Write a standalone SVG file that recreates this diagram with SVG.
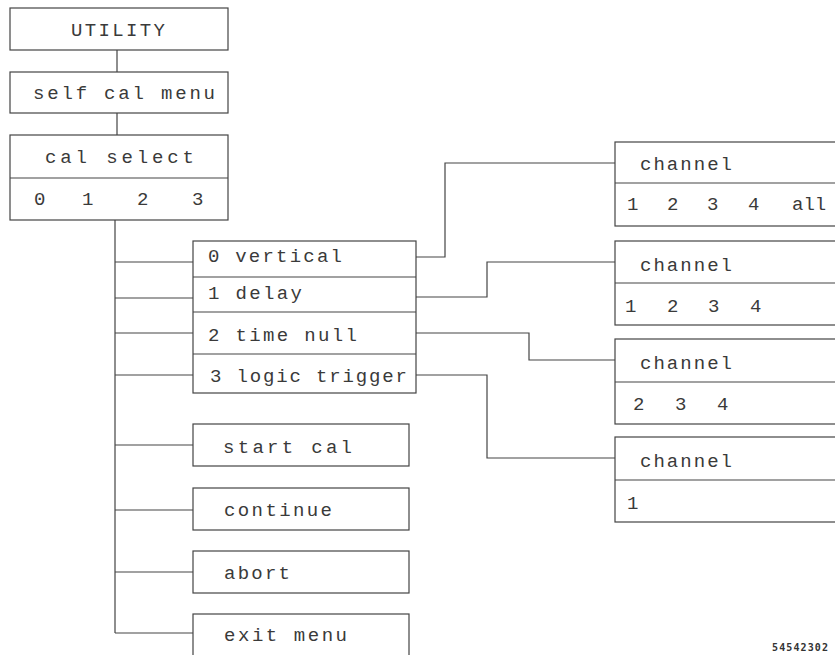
<svg xmlns="http://www.w3.org/2000/svg" width="835" height="655" viewBox="0 0 835 655">
<style>
.box{fill:#fff;stroke:#444;stroke-width:1.2}
.div{stroke:#444;stroke-width:1.2}
.t{font-family:"Liberation Mono","DejaVu Sans Mono",monospace;font-size:19px;fill:#3a3a3a}
.c{fill:none;stroke:#444;stroke-width:1.2}
.code{font-family:"DejaVu Sans Mono",monospace;font-size:10px;font-weight:bold;fill:#333}
</style>
<rect width="835" height="655" fill="#fff"/>
<g id="connectors">
<path class="c" d="M117,50 V72 M117,113 V135"/>
<path class="c" d="M115,220 V633 M115,262 H193 M115,298 H193 M115,333 H193 M115,375 H193 M115,445 H193 M115,510 H193 M115,572 H193 M115,633 H193"/>
<path class="c" d="M416,257 H445 V163 H615"/>
<path class="c" d="M416,297 H487 V262 H615"/>
<path class="c" d="M416,333 H529 V360 H615"/>
<path class="c" d="M416,375 H487 V458 H615"/>
</g>
<g id="utility">
<rect class="box" x="10" y="8" width="218" height="42"/>
<text class="t" x="71" y="36" textLength="94" lengthAdjust="spacing">UTILITY</text>
</g>
<g id="self-cal-menu">
<rect class="box" x="10" y="72" width="218" height="41"/>
<text class="t" x="33" y="99" textLength="182" lengthAdjust="spacing">self cal menu</text>
</g>
<g id="cal-select">
<rect class="box" x="10" y="135" width="218" height="85"/>
<line class="div" x1="10" y1="178" x2="228" y2="178"/>
<text class="t" x="45" y="163" textLength="149" lengthAdjust="spacing">cal select</text>
<text class="t" y="205"><tspan x="34">0</tspan><tspan x="82">1</tspan><tspan x="137">2</tspan><tspan x="192">3</tspan></text>
</g>
<g id="cal-options">
<rect class="box" x="193" y="241" width="223" height="152"/>
<line class="div" x1="193" y1="277" x2="416" y2="277"/>
<line class="div" x1="193" y1="312" x2="416" y2="312"/>
<line class="div" x1="193" y1="354" x2="416" y2="354"/>
<text class="t" x="208" y="262" textLength="134" lengthAdjust="spacing">0 vertical</text>
<text class="t" x="208" y="299" textLength="94" lengthAdjust="spacing">1 delay</text>
<text class="t" x="208" y="341" textLength="149" lengthAdjust="spacing">2 time null</text>
<text class="t" x="210" y="382" textLength="197" lengthAdjust="spacing">3 logic trigger</text>
</g>
<g id="start-cal">
<rect class="box" x="193" y="424" width="216" height="42"/>
<text class="t" x="223" y="453" textLength="129" lengthAdjust="spacing">start cal</text>
</g>
<g id="continue">
<rect class="box" x="193" y="488" width="216" height="42"/>
<text class="t" x="224" y="516" textLength="108" lengthAdjust="spacing">continue</text>
</g>
<g id="abort">
<rect class="box" x="193" y="551" width="216" height="42"/>
<text class="t" x="224" y="579" textLength="66" lengthAdjust="spacing">abort</text>
</g>
<g id="exit-menu">
<rect class="box" x="193" y="614" width="216" height="50"/>
<text class="t" x="224" y="641" textLength="123" lengthAdjust="spacing">exit menu</text>
</g>
<g id="channel-1">
<rect class="box" x="615" y="142" width="230" height="84"/>
<line class="div" x1="615" y1="183" x2="845" y2="183"/>
<text class="t" x="640" y="170" textLength="92" lengthAdjust="spacing">channel</text>
<text class="t" y="210"><tspan x="627">1</tspan><tspan x="667">2</tspan><tspan x="707">3</tspan><tspan x="748">4</tspan><tspan x="792">all</tspan></text>
</g>
<g id="channel-2">
<rect class="box" x="615" y="241" width="230" height="84"/>
<line class="div" x1="615" y1="283" x2="845" y2="283"/>
<text class="t" x="640" y="271" textLength="92" lengthAdjust="spacing">channel</text>
<text class="t" y="312"><tspan x="625">1</tspan><tspan x="667">2</tspan><tspan x="708">3</tspan><tspan x="750">4</tspan></text>
</g>
<g id="channel-3">
<rect class="box" x="615" y="339" width="230" height="85"/>
<line class="div" x1="615" y1="382" x2="845" y2="382"/>
<text class="t" x="640" y="369" textLength="92" lengthAdjust="spacing">channel</text>
<text class="t" y="410"><tspan x="633">2</tspan><tspan x="675">3</tspan><tspan x="717">4</tspan></text>
</g>
<g id="channel-4">
<rect class="box" x="615" y="437" width="230" height="85"/>
<line class="div" x1="615" y1="480" x2="845" y2="480"/>
<text class="t" x="640" y="467" textLength="92" lengthAdjust="spacing">channel</text>
<text class="t" y="509"><tspan x="627">1</tspan></text>
</g>
<text class="code" x="772" y="651" textLength="56" lengthAdjust="spacing">54542302</text>
</svg>
